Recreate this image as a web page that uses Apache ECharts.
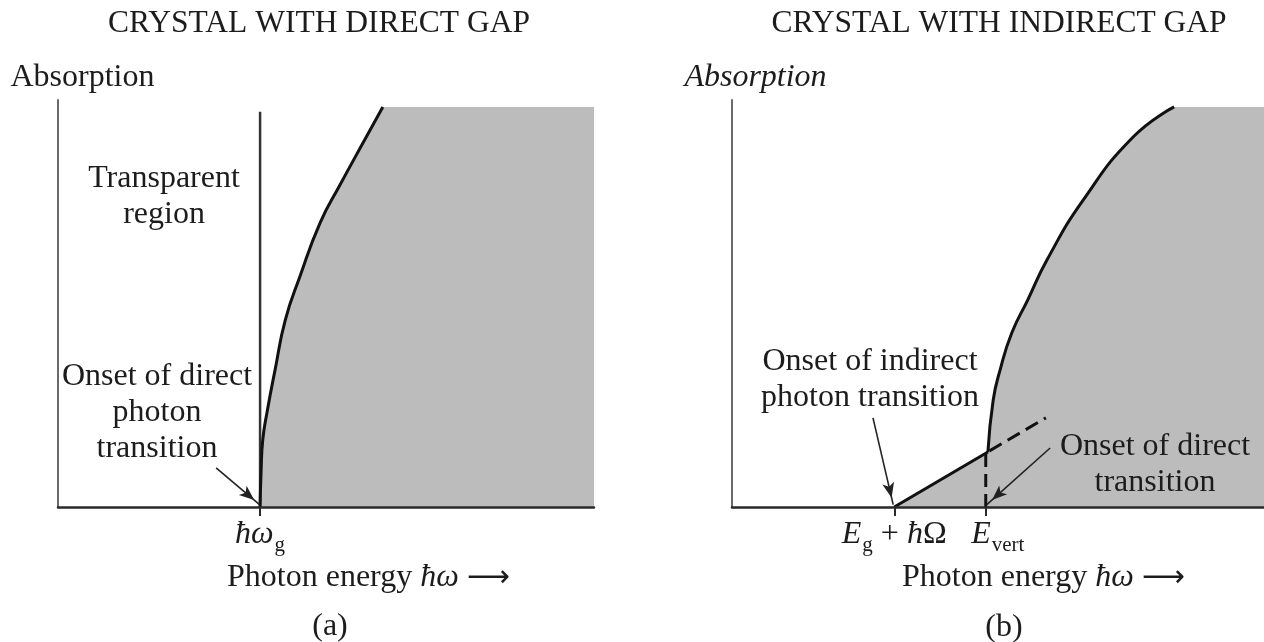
<!DOCTYPE html>
<html><head><meta charset="utf-8">
<script src="https://cdn.jsdelivr.net/npm/echarts@6/dist/echarts.min.js"></script>
<style>html,body{margin:0;padding:0;background:#fff}#c{width:1264px;height:642px}</style>
</head><body><div id="c"></div>
<script>
// ---------- data (arbitrary units: photon energy 0..100, absorption 0..100) ----------
const panelTitles = ['CRYSTAL WITH DIRECT GAP', 'CRYSTAL WITH INDIRECT GAP'];
const axisMax = 100;
const plateauTop = 98.3;

// (a) direct gap
const directGapEnergy = 37.7;          // ħω_g
const transparentEdgeTop = 97.1;
const directCurveX = [37.7, 37.9, 38.2, 39.0, 40.5, 42.4, 45.1, 48.9, 52.6, 57.3, 60.6];
const directCurveY = [0, 9.1, 16.5, 23.3, 33.7, 45.9, 56.5, 69.8, 79.1, 90.4, 98.3];
const directArrowFrom = [29.5, 9.6];
const directArrowTo = [37.6, 0.6];

// (b) indirect gap
const indirectOnset = 30.5;            // E_g + ħΩ
const verticalEnergy = 47.7;           // E_vert
const phononLineX = [30.5, 48.1];
const phononLineY = [0, 13.5];
const steepCurveX = [48.1, 49.1, 50.4, 52.6, 55.6, 59.2, 66.0, 75.4, 83.1];
const steepCurveY = [13.5, 26.3, 33.7, 42.8, 50.9, 60.7, 75.4, 90.9, 98.3];
const extensionX = [48.4, 59.0];
const extensionY = [13.8, 21.9];
const indirectArrowFrom = [26.5, 21.9];
const indirectArrowTo = [30.3, 0.6];
const directTransArrowFrom = [59.8, 14.5];
const directTransArrowTo = [47.9, 0.6];

// ---------- helpers ----------
const SERIF = '"Liberation Serif", "Times New Roman", serif';
const INK = '#1c1c1c';
const SHADE = '#bcbcbc';
const SEAM_OVERLAP = 0.3;   // hide the anti-aliasing seam between adjacent fills
const zip = (xs, ys) => xs.map((x, i) => [x, ys[i]]);
const last = a => a[a.length - 1];

const richLabel = {
  it:  {fontFamily: SERIF, fontStyle: 'italic', fontSize: 32, lineHeight: 36, color: INK},
  rm:  {fontFamily: SERIF, fontSize: 32, lineHeight: 36, color: INK},
  sub: {fontFamily: SERIF, fontSize: 21, lineHeight: 36, padding: [20, 0, 0, 1], color: INK},
  sp:  {width: 24, lineHeight: 36},
  arr: {fontFamily: '"DejaVu Sans"', fontSize: 30, lineHeight: 36, color: INK}
};

function xAxisFor(grid, values, fmt) {
  return {
    gridIndex: grid, type: 'value', min: 0, max: axisMax, z: 5,
    axisLine: {show: true, onZero: false, lineStyle: {color: '#2a2a2a', width: 2.5}},
    splitLine: {show: false},
    axisTick: {show: true, customValues: values, length: 9, inside: false, lineStyle: {color: '#2a2a2a', width: 2}},
    axisLabel: {show: true, customValues: values, formatter: fmt, margin: 10, rich: richLabel}
  };
}
function yAxisFor(grid, italic, padLeft) {
  return {
    gridIndex: grid, type: 'value', min: 0, max: axisMax, z: 5,
    axisLine: {show: true, lineStyle: {color: '#6a6a6a', width: 2}},
    axisTick: {show: false}, axisLabel: {show: false}, splitLine: {show: false},
    name: 'Absorption', nameLocation: 'end', nameGap: 6,
    nameTextStyle: {fontFamily: SERIF, fontSize: 32, fontStyle: italic ? 'italic' : 'normal', color: INK, padding: [0, 0, 0, padLeft]}
  };
}
function arrowMarkLine(from, to) {
  return {
    silent: true, animation: false,
    symbol: ['none', 'arrow'], symbolSize: [9, 15], symbolOffset: [[0, 0], [0, 7]],
    lineStyle: {color: '#222', width: 1.6, type: 'solid'},
    label: {show: false},
    data: [[{coord: from}, {coord: to}]]
  };
}
function lineSeries(grid, data, style, extra) {
  return Object.assign({
    type: 'line', xAxisIndex: grid, yAxisIndex: grid, data: data,
    symbol: 'none', silent: true, animation: false, lineStyle: style
  }, extra || {});
}
function areaSeries(grid, data, smooth) {
  return lineSeries(grid, data, {width: 0}, {smooth: smooth, areaStyle: {color: SHADE, opacity: 1}, z: 1});
}

function textEl(x, y, text, opts) {
  opts = opts || {};
  const align = opts.align || 'center';
  return {
    type: 'text', x: x, y: y, silent: true, z: 20,
    style: {
      text: text, fill: INK,
      font: (opts.italic ? 'italic ' : '') + '32px ' + SERIF,
      align: align, textAlign: align, verticalAlign: 'middle', textVerticalAlign: 'middle',
      lineHeight: 36, rich: richLabel
    }
  };
}

const SMOOTH = 0.5;
const directPts = zip(directCurveX, directCurveY);
const steepPts = zip(steepCurveX, steepCurveY);

const chart = echarts.init(document.getElementById('c'), null, {renderer: 'canvas'});
chart.setOption({
  animation: false,
  backgroundColor: '#fff',
  title: [
    {text: panelTitles[0], left: 319, top: 8, textAlign: 'center', padding: 0,
     textStyle: {fontFamily: SERIF, fontSize: 31.5, fontWeight: 'normal', color: INK}},
    {text: panelTitles[1], left: 999, top: 8, textAlign: 'center', padding: 0,
     textStyle: {fontFamily: SERIF, fontSize: 31.5, fontWeight: 'normal', color: INK}}
  ],
  grid: [
    {left: 58, right: 670, top: 100, bottom: 135},
    {left: 732, right: 0, top: 100, bottom: 135}
  ],
  xAxis: [
    xAxisFor(0, [directGapEnergy], () => '{it|ħω}{sub|g}'),
    xAxisFor(1, [indirectOnset, verticalEnergy], v =>
      Math.abs(v - indirectOnset) < 1e-6 ? '{it|E}{sub|g}{rm| + }{it|ħ}{rm|Ω}' : '{sp|}{it|E}{sub|vert}')
  ],
  yAxis: [yAxisFor(0, false, 49), yAxisFor(1, true, 47)],
  series: [
    // (a) shaded absorbing region: under the curve, then the plateau
    areaSeries(0, [[last(directPts)[0] - SEAM_OVERLAP, plateauTop], [axisMax, plateauTop]], false),
    areaSeries(0, directPts, SMOOTH),
    // (a) edge of transparent region
    lineSeries(0, [[directGapEnergy, 0], [directGapEnergy, transparentEdgeTop]],
      {color: '#333', width: 2.5}, {z: 3}),
    // (a) absorption curve
    lineSeries(0, directPts, {color: '#111', width: 3},
      {smooth: SMOOTH, z: 4, markLine: arrowMarkLine(directArrowFrom, directArrowTo)}),

    // (b) shaded region
    areaSeries(1, [[last(steepPts)[0] - SEAM_OVERLAP, plateauTop], [axisMax, plateauTop]], false),
    areaSeries(1, zip(phononLineX, phononLineY), false),
    areaSeries(1, steepPts, SMOOTH),
    // (b) phonon-assisted linear part
    lineSeries(1, zip(phononLineX, phononLineY), {color: '#111', width: 3}, {z: 4,
      markLine: arrowMarkLine(indirectArrowFrom, indirectArrowTo)}),
    // (b) steep direct part
    lineSeries(1, steepPts, {color: '#111', width: 3}, {smooth: SMOOTH, z: 4,
      markLine: arrowMarkLine(directTransArrowFrom, directTransArrowTo)}),
    // (b) dashed extension of indirect line
    lineSeries(1, zip(extensionX, extensionY), {color: '#111', width: 3, type: [14, 7]}, {z: 4}),
    // (b) dashed vertical at E_vert
    lineSeries(1, [[verticalEnergy, 0], [verticalEnergy, phononLineY[1]]], {color: '#111', width: 3, type: [13, 7]}, {z: 4})
  ],
  graphic: [
    textEl(164, 197, 'Transparent\nregion'),
    textEl(157, 413, 'Onset of direct\nphoton\ntransition'),
    textEl(870, 380, 'Onset of indirect\nphoton transition'),
    textEl(1155, 465, 'Onset of direct\ntransition'),
    textEl(227, 578, 'Photon energy {it|ħω} {arr|⟶}', {align: 'left'}),
    textEl(902, 578, 'Photon energy {it|ħω} {arr|⟶}', {align: 'left'}),
    textEl(330, 627, '(a)'),
    textEl(1004, 628, '(b)')
  ]
});
</script></body></html>
